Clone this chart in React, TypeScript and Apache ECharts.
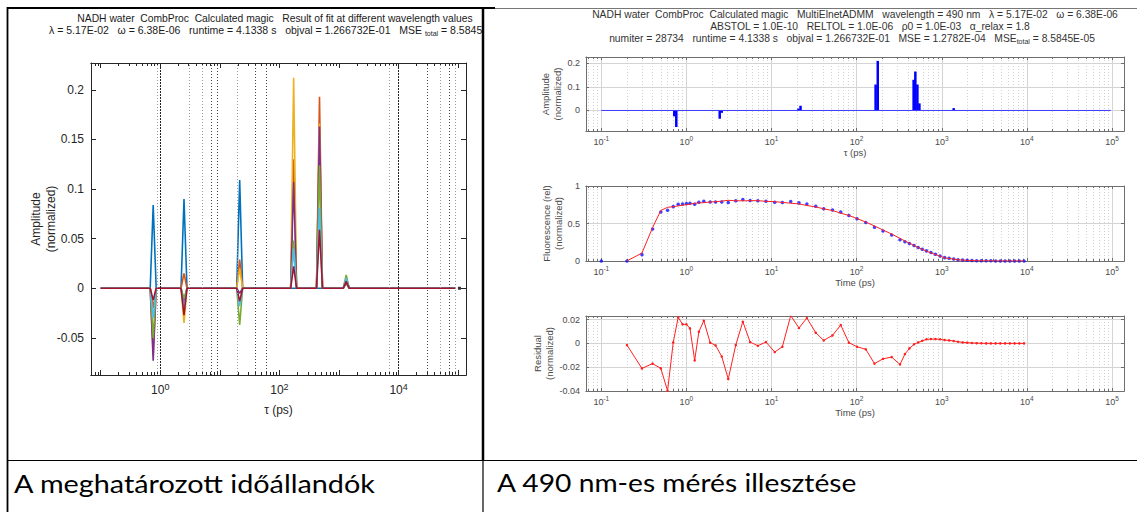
import React, { useEffect, useRef } from "react";
import * as echarts from "echarts";

// ---------------- Left panel: fitted time constants at different wavelengths ----------------
const leftLineStartTau = 0.1;
const leftLineEndTau = 89000;
const leftEndMarkerTau = 105000;
const spikeTau = [0.76, 2.5, 21.5, 173, 470, 1320];
const ampSeries1 = [0.084, 0.09, 0.109, 0, 0, 0.005];
const ampSeries2 = [-0.02, 0.015, 0.029, 0.13, 0.193, 0.006];
const ampSeries3 = [-0.068, -0.035, 0.02, 0.212, 0.166, 0.01];
const ampSeries4 = [-0.073, -0.015, -0.005, 0.107, 0.163, 0.009];
const ampSeries5 = [-0.05, -0.01, -0.037, 0.048, 0.124, 0.0135];
const ampSeries6 = [-0.03, -0.02, -0.018, 0.04, 0.081, 0.01];
const ampSeries7 = [-0.012, -0.027, -0.013, 0.022, 0.059, 0.007];
const leftSeries = [ampSeries1, ampSeries2, ampSeries3, ampSeries4, ampSeries5, ampSeries6, ampSeries7];

const leftXLabelExp = [0, 2, 4];
const leftYTicks = [-0.05, 0, 0.05, 0.1, 0.15, 0.2];
const leftVLinesLight = [0.9, 3, 5, 20, 7000, 50000, 90000];
const leftVLinesDark = [7, 9, 40, 60, 30000, 70000];
const leftVLinesMajor = [1, 10000];

// ---------------- Right panel: 490 nm fit ----------------
const stemTau = [0.72, 0.76, 2.46, 2.6, 20.7, 21.9, 167, 177, 467, 489, 517, 546, 1380];
const stemAmp = [-0.025, -0.07, -0.035, -0.01, 0.008, 0.02, 0.11, 0.21, 0.13, 0.165, 0.11, 0.03, 0.01];
const stemLineStartTau = 0.1;
const stemLineEndTau = 97000;

const fluorTime = [
  0.1, 0.2, 0.3, 0.4, 0.5, 0.6, 0.7, 0.8, 0.9, 1.0,
  1.1, 1.25, 1.4, 1.6, 1.9, 2.2, 2.6, 3.1, 3.8, 4.6,
  5.6, 6.9, 8.6, 10.9, 13.4, 16.8, 21, 26, 33, 41,
  52, 65, 81, 101, 128, 162, 204, 258, 323, 369,
  417, 472, 528, 590, 660, 746, 843, 955, 1080, 1220,
  1380, 1550, 1760, 1990, 2260, 2570, 2920, 3320, 3770, 4290,
  4870, 5540, 6300, 7160, 8140, 9260,
];
const fluorData = [
  0, 0, 0.085, 0.428, 0.653, 0.676, 0.725, 0.757, 0.761, 0.766,
  0.77, 0.757, 0.784, 0.797, 0.788, 0.788, 0.788, 0.779, 0.802, 0.82,
  0.806, 0.802, 0.797, 0.784, 0.779, 0.793, 0.775, 0.761, 0.73, 0.698,
  0.68, 0.653, 0.608, 0.563, 0.514, 0.45, 0.4, 0.347, 0.284, 0.257,
  0.234, 0.207, 0.18, 0.158, 0.135, 0.113, 0.09, 0.068, 0.045, 0.036,
  0.027, 0.018, 0.0135, 0.009, 0.006, 0.004, 0.003, 0.002, 0.002, 0.001,
  0.001, 0.001, 0.001, 0, 0.001, 0,
];
// fit and residual start at the second time point (0.2 ps)
const fitTime = fluorTime.slice(1);
const fitData = [
  0.0014, 0.106, 0.445, 0.674, 0.716, 0.724, 0.735, 0.745, 0.75,
  0.757, 0.771, 0.774, 0.778, 0.787, 0.79, 0.799, 0.809, 0.803, 0.802,
  0.805, 0.804, 0.796, 0.791, 0.782, 0.77, 0.762, 0.74, 0.721, 0.696,
  0.673, 0.638, 0.607, 0.566, 0.519, 0.467, 0.413, 0.359, 0.302, 0.266,
  0.238, 0.208, 0.179, 0.156, 0.132, 0.109, 0.086, 0.065, 0.042, 0.0335,
  0.025, 0.0166, 0.0127, 0.0084, 0.0057, 0.0038, 0.0029, 0.002, 0.002, 0.001,
  0.001, 0.001, 0.001, 0, 0.001, 0,
];
const residData = [
  -0.0014, -0.021, -0.017, -0.021, -0.0398, 0.0008, 0.0219, 0.016, 0.016,
  0.0126, -0.0143, 0.0098, 0.019, 0.0006, -0.0017, -0.011, -0.03, -0.0014, 0.0182,
  0.0011, -0.002, 0.0011, -0.0073, -0.0028, 0.0233, 0.0129, 0.0213, 0.009, 0.0025,
  0.0067, 0.0154, 0.0006, -0.0028, -0.005, -0.017, -0.013, -0.0115, -0.0177, -0.009,
  -0.0042, -0.0008, 0.0008, 0.0022, 0.0034, 0.0036, 0.0036, 0.0034, 0.0028, 0.0025,
  0.002, 0.0014, 0.0008, 0.0006, 0.0003, 0.0002, 0.0001, 0, 0, 0,
  0, 0, 0, 0, 0, 0,
];

const rightXLabelExp = [-1, 0, 1, 2, 3, 4, 5];
const ampYTicks = [0, 0.1, 0.2];
const fluorYTicks = [0, 0.5, 1];
const residYTicks = [-0.04, -0.02, 0, 0.02];

// ---------------- helpers ----------------
const lg = (v: number) => Math.log10(v);
const MATLAB = ["#0072BD", "#D95319", "#EDB120", "#7E2F8E", "#77AC30", "#4DBEEE", "#A2142F"];
const FONT = "Liberation Sans, Arial, sans-serif";

function logTicks(min: number, max: number) {
  const major: number[] = [];
  const minor: number[] = [];
  for (let n = Math.floor(min) - 1; n <= Math.ceil(max) + 1; n++) {
    if (n >= min && n <= max) major.push(n);
    for (let k = 2; k <= 9; k++) {
      const v = n + Math.log10(k);
      if (v >= min && v <= max) minor.push(v);
    }
  }
  return { major, minor };
}

type XCfg = {
  grid: number;
  min: number;
  max: number;
  labels: number[];
  fs: number;
  sfs: number;
  raise: number;
  color: string;
  axisColor: string;
  majorLen: number;
  minorLen: number;
  margin: number;
  name: string;
  nameGap: number;
  nameSize: number;
  majorGrid?: any;
  minorGrid?: any;
};

function xAxesFor(c: XCfg) {
  const { major, minor } = logTicks(c.min, c.max);
  const base = {
    type: "value",
    gridIndex: c.grid,
    min: c.min,
    max: c.max,
    axisLine: { show: true, onZero: false, lineStyle: { color: c.axisColor, width: 1 } },
    splitLine: { show: false },
    silent: true,
  };
  const tick = (vals: number[], len: number) => ({
    show: true,
    inside: true,
    length: len,
    customValues: vals,
    lineStyle: { color: c.axisColor, width: 1 },
  });
  return [
    {
      ...base,
      position: "bottom",
      axisTick: tick(major, c.majorLen),
      axisLabel: {
        show: true,
        customValues: c.labels,
        margin: c.margin,
        formatter: (v: number) => `{b|10}{s|${Math.round(v)}}`,
        rich: {
          b: { fontSize: c.fs, fontFamily: FONT, color: c.color, verticalAlign: "bottom", lineHeight: c.fs + 1 },
          s: {
            fontSize: c.sfs,
            fontFamily: FONT,
            color: c.color,
            verticalAlign: "bottom",
            lineHeight: c.sfs + 1,
            padding: [0, 0, c.raise, 0],
          },
        },
      },
      name: c.name,
      nameLocation: "middle",
      nameGap: c.nameGap,
      nameMoveOverlap: false,
      nameTextStyle: { fontSize: c.nameSize, fontFamily: FONT, color: c.color },
      splitLine: c.majorGrid ? { show: true, lineStyle: c.majorGrid } : { show: false },
    },
    {
      ...base,
      position: "bottom",
      axisTick: tick(minor, c.minorLen),
      axisLabel: { show: false },
      splitLine: c.minorGrid ? { show: true, lineStyle: c.minorGrid } : { show: false },
    },
    { ...base, position: "top", axisTick: tick(major, c.majorLen), axisLabel: { show: false } },
    { ...base, position: "top", axisTick: tick(minor, c.minorLen), axisLabel: { show: false } },
  ];
}

type YCfg = {
  grid: number;
  min: number;
  max: number;
  ticks: number[];
  fs: number;
  color: string;
  axisColor: string;
  len: number;
  margin: number;
  name: string;
  nameGap: number;
  nameSize: number;
  grid2?: any;
};

function yAxesFor(c: YCfg) {
  const base = {
    type: "value",
    gridIndex: c.grid,
    min: c.min,
    max: c.max,
    silent: true,
    axisLine: { show: true, onZero: false, lineStyle: { color: c.axisColor, width: 1 } },
    axisTick: { show: true, inside: true, length: c.len, customValues: c.ticks, lineStyle: { color: c.axisColor } },
    splitLine: { show: false },
  };
  return [
    {
      ...base,
      position: "left",
      axisLabel: {
        show: true,
        customValues: c.ticks,
        margin: c.margin,
        fontSize: c.fs,
        fontFamily: FONT,
        color: c.color,
        formatter: (v: number) => String(+v.toFixed(3)),
      },
      name: c.name,
      nameLocation: "middle",
      nameRotate: 90,
      nameGap: c.nameGap,
      nameMoveOverlap: false,
      nameTextStyle: { fontSize: c.nameSize, fontFamily: FONT, color: c.color, lineHeight: c.nameSize + 3 },
      splitLine: c.grid2 ? { show: true, lineStyle: c.grid2 } : { show: false },
    },
    { ...base, position: "right", axisLabel: { show: false } },
  ];
}

function spikeLine(amps: number[]) {
  const w = 0.05;
  const pts: number[][] = [[lg(leftLineStartTau), 0]];
  spikeTau.forEach((t, i) => {
    if (amps[i] !== 0) {
      pts.push([lg(t) - w, 0], [lg(t), amps[i]], [lg(t) + w, 0]);
    }
  });
  pts.push([lg(leftLineEndTau), 0]);
  return pts;
}

function buildOption() {
  const L = { min: -1.163, max: 5.131 };
  const R = { min: -1.18, max: 5.141 };
  const lc = "#262626";
  const rc = "#4a4a4a";
  const rAxis = "#6e6e6e";
  const majorGrid = { color: "#d4d4d4", width: 1, type: "solid" };
  const minorGrid = { color: "#d2d2d2", width: 1, type: [1, 2] };
  const hGrid = { color: "#d4d4d4", width: 1, type: "solid" };

  const rx = { fs: 9, sfs: 6.5, raise: 4, color: rc, axisColor: rAxis, majorLen: 3, minorLen: 2, margin: 5, nameGap: 16, nameSize: 9.5, majorGrid, minorGrid };
  const xAxis = [
    ...xAxesFor({ grid: 0, ...L, labels: leftXLabelExp, fs: 12, sfs: 9, raise: 5, color: lc, axisColor: lc, majorLen: 5, minorLen: 3, margin: 8, name: "τ (ps)", nameGap: 29, nameSize: 12 }),
    ...xAxesFor({ grid: 1, ...R, labels: rightXLabelExp, ...rx, name: "τ (ps)" }),
    ...xAxesFor({ grid: 2, ...R, labels: rightXLabelExp, ...rx, name: "Time (ps)" }),
    ...xAxesFor({ grid: 3, ...R, labels: rightXLabelExp, ...rx, name: "Time (ps)" }),
  ];
  const yAxis = [
    ...yAxesFor({ grid: 0, min: -0.0874, max: 0.227, ticks: leftYTicks, fs: 12, color: lc, axisColor: lc, len: 5, margin: 7, name: "Amplitude\n(normalized)", nameGap: 33, nameSize: 12 }),
    ...yAxesFor({ grid: 1, min: -0.087, max: 0.2265, ticks: ampYTicks, fs: 9, color: rc, axisColor: rAxis, len: 3, margin: 6, name: "Amplitude\n(normalized)", nameGap: 22, nameSize: 9.5, grid2: hGrid }),
    ...yAxesFor({ grid: 2, min: 0, max: 1, ticks: fluorYTicks, fs: 9, color: rc, axisColor: rAxis, len: 3, margin: 6, name: "Fluorescence (rel)\n(normalized)", nameGap: 21, nameSize: 9.5, grid2: hGrid }),
    ...yAxesFor({ grid: 3, min: -0.04, max: 0.023, ticks: residYTicks, fs: 9, color: rc, axisColor: rAxis, len: 3, margin: 6, name: "Residual\n(normalized)", nameGap: 30, nameSize: 9.5, grid2: hGrid }),
  ];

  const dotted = (vals: number[], color: string, type: any, width = 1) => ({
    silent: true,
    symbol: ["none", "none"],
    label: { show: false },
    emphasis: { disabled: true },
    lineStyle: { color, type, width },
    data: vals.map((v) => ({ xAxis: lg(v) })),
  });

  const series: any[] = [];
  leftSeries.forEach((amps, i) => {
    const s: any = {
      type: "line",
      xAxisIndex: 0,
      yAxisIndex: 0,
      data: spikeLine(amps),
      showSymbol: false,
      lineStyle: { color: MATLAB[i], width: 1.6 },
      itemStyle: { color: MATLAB[i] },
      emphasis: { disabled: true },
      z: 3,
    };
    if (i === 0) s.markLine = dotted(leftVLinesLight, "#9a9a9a", [1, 2]);
    if (i === 1) s.markLine = dotted(leftVLinesDark, "#444", [1, 2]);
    if (i === 2) s.markLine = dotted(leftVLinesMajor, "#222", [2, 1]);
    series.push(s);
  });
  series.push({
    type: "scatter",
    xAxisIndex: 0,
    yAxisIndex: 0,
    data: [[lg(leftEndMarkerTau), 0]],
    symbol: "rect",
    symbolSize: 3,
    itemStyle: { color: "#000" },
    emphasis: { disabled: true },
    z: 4,
  });

  // right top: amplitude stems + baseline
  series.push({
    type: "line",
    xAxisIndex: 4,
    yAxisIndex: 2,
    data: [[lg(stemLineStartTau), 0], [lg(stemLineEndTau), 0]],
    showSymbol: false,
    lineStyle: { color: "#3c3cff", width: 1 },
    emphasis: { disabled: true },
  });
  series.push({
    type: "bar",
    xAxisIndex: 4,
    yAxisIndex: 2,
    data: stemTau.map((t, i) => [lg(t), stemAmp[i]]),
    barWidth: 2.5,
    itemStyle: { color: "#0000ff" },
    emphasis: { disabled: true },
  });

  // right middle: fluorescence fit + data
  series.push({
    type: "line",
    xAxisIndex: 8,
    yAxisIndex: 4,
    data: fitTime.map((t, i) => [lg(t), fitData[i]]),
    showSymbol: false,
    lineStyle: { color: "#ff2020", width: 1 },
    emphasis: { disabled: true },
  });
  series.push({
    type: "scatter",
    xAxisIndex: 8,
    yAxisIndex: 4,
    data: fluorTime.map((t, i) => [lg(t), fluorData[i]]),
    symbol: "circle",
    symbolSize: 3.5,
    itemStyle: { color: "#1010ff" },
    emphasis: { disabled: true },
  });

  // right bottom: residual
  series.push({
    type: "line",
    xAxisIndex: 12,
    yAxisIndex: 6,
    data: fitTime.map((t, i) => [lg(t), residData[i]]),
    showSymbol: true,
    symbol: "circle",
    symbolSize: 2.5,
    lineStyle: { color: "#ff2020", width: 1 },
    itemStyle: { color: "#ff2020" },
    emphasis: { disabled: true },
  });

  const txt = (text: string, x: number, y: number, fontSize: number, align: string, extra: any = {}, el: any = {}) => ({
    type: "text",
    x,
    y,
    silent: true,
    ...el,
    style: {
      text,
      fontSize,
      fontFamily: FONT,
      fill: "#1a1a1a",
      align,
      verticalAlign: "middle",
      ...extra,
    },
  });
  const subRich = (fs: number, fill = "#1a1a1a") => ({
    rich: {
      sub: { fontSize: fs, fontFamily: FONT, fill, verticalAlign: "bottom", padding: [6, 0, 0, 0] },
    },
  });

  const line = (x1: number, y1: number, x2: number, y2: number, stroke: string, lineWidth: number) => ({
    type: "line",
    silent: true,
    shape: { x1, y1, x2, y2 },
    style: { stroke, lineWidth },
  });

  const capStyle = { fontFamily: "Lato, Open Sans, sans-serif", fill: "#000" };
  const graphic = [
    txt("NADH water  CombProc  Calculated magic   Result of fit at different wavelength values", 275, 18, 10.3, "center"),
    txt("λ = 5.17E-02   ω = 6.38E-06   runtime = 4.1338 s   objval = 1.266732E-01   MSE {sub|total} = 8.5845", 49, 30, 10.5, "left", subRich(7)),
    txt("NADH water  CombProc  Calculated magic   MultiElnetADMM   wavelength = 490 nm   λ = 5.17E-02   ω = 6.38E-06", 855, 14, 10.3, "center", { fill: "#333" }),
    txt("ABSTOL = 1.0E-10   RELTOL = 1.0E-06   ρ0 = 1.0E-03   α_relax = 1.8", 870, 26, 10.3, "center", { fill: "#333" }),
    txt("numiter = 28734   runtime = 4.1338 s   objval = 1.266732E-01   MSE = 1.2782E-04   MSE{sub|total} = 8.5845E-05", 852, 38, 10.3, "center", { fill: "#333", ...subRich(7, "#333") }),
    txt("A meghatározott időállandók", 14, 483, 28.8, "left", capStyle, { scaleY: 0.86 }),
    txt("A 490 nm-es mérés illesztése", 497, 483, 28.2, "left", capStyle, { scaleY: 0.86 }),
    line(7, 8, 495, 8, "#000", 2),
    line(495, 8.5, 1137, 8.5, "#777", 1),
    line(7.5, 7, 7.5, 512, "#000", 1.8),
    line(483, 7, 483, 460, "#000", 2.5),
    line(483, 460, 483, 512, "#000", 1.2),
    line(7, 460.5, 1137, 460.5, "#000", 1.2),
  ];

  return {
    animation: false,
    backgroundColor: "#ffffff",
    textStyle: { fontFamily: FONT },
    grid: [
      { left: 91, top: 63, width: 375, height: 312, outerBoundsMode: "none" },
      { left: 586, top: 57, width: 538, height: 74, outerBoundsMode: "none" },
      { left: 586, top: 186, width: 538, height: 75, outerBoundsMode: "none" },
      { left: 586, top: 316, width: 538, height: 75, outerBoundsMode: "none" },
    ],
    xAxis,
    yAxis,
    series,
    graphic,
  };
}

export default function App() {
  const ref = useRef<HTMLDivElement>(null);
  useEffect(() => {
    if (!ref.current) return;
    const chart = echarts.init(ref.current, undefined, { renderer: "svg" });
    chart.setOption(buildOption() as any);
    return () => chart.dispose();
  }, []);
  return (
    <div
      ref={ref}
      style={{ position: "absolute", left: 0, top: 0, width: 1137, height: 512, background: "#fff" }}
    />
  );
}
